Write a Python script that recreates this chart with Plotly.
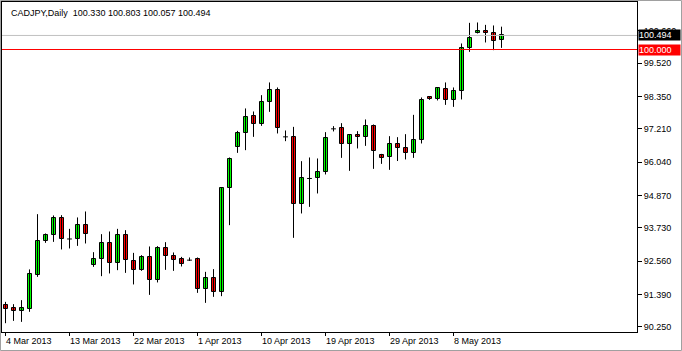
import plotly.graph_objects as go

# ---------------- data ----------------
symbol_title = "CADJPY,Daily"
header_vals = ["100.330", "100.803", "100.057", "100.494"]

opens = [91.003, 90.898, 90.792, 90.884, 92.079, 93.253, 93.464, 94.061, 93.340, 93.323,
         93.826, 92.409, 92.641, 93.182, 92.480, 93.464, 92.571, 92.255, 92.690, 91.882,
         93.007, 92.726, 92.620, 92.596, 92.620, 91.566, 91.952, 91.482, 95.116, 96.578,
         97.049, 97.647, 97.365, 98.139, 98.560, 96.930, 96.930, 94.553, 95.467, 95.467,
         95.678, 97.211, 97.225, 96.662, 96.979, 96.909, 97.295, 96.276, 96.205, 96.662,
         96.522, 96.346, 96.803, 98.314, 98.244, 98.596, 98.209, 98.536, 100.037, 100.564,
         100.634, 100.564, 100.330]
highs = [91.130, 91.049, 91.190, 92.270, 94.212, 93.534, 94.167, 94.177, 93.696, 94.097,
         94.307, 92.877, 93.510, 93.604, 93.696, 93.650, 92.852, 92.771, 93.077, 93.088,
         93.228, 92.866, 92.711, 92.690, 92.690, 92.185, 92.280, 95.160, 96.205, 97.140,
         97.928, 97.822, 98.395, 98.842, 98.666, 97.154, 97.281, 96.075, 96.205, 96.170,
         97.095, 97.306, 97.411, 97.024, 97.130, 97.541, 97.365, 96.332, 96.954, 96.919,
         97.024, 97.703, 98.314, 98.350, 98.666, 98.842, 98.666, 100.212, 100.937, 100.950,
         100.866, 100.845, 100.803]
lows = [90.380, 90.462, 90.427, 90.780, 92.009, 93.204, 93.239, 92.972, 93.007, 93.098,
        93.182, 92.360, 92.033, 92.128, 92.244, 92.149, 91.742, 92.220, 91.376, 91.812,
        92.255, 92.220, 92.374, 92.570, 91.446, 91.095, 91.306, 91.330, 93.826, 96.367,
        96.462, 96.930, 97.316, 97.808, 97.049, 96.778, 93.380, 94.237, 94.469, 94.940,
        95.608, 97.120, 96.191, 95.735, 96.522, 96.613, 95.805, 95.980, 95.770, 96.080,
        96.136, 96.191, 96.697, 98.230, 98.209, 98.054, 97.984, 98.244, 99.917, 100.564,
        100.247, 99.977, 100.057]
closes = [90.884, 90.792, 90.898, 92.104, 93.253, 93.485, 94.061, 93.323, 93.340, 93.815,
          93.510, 92.641, 93.182, 92.480, 93.464, 92.585, 92.234, 92.690, 91.882, 93.007,
          92.726, 92.606, 92.455, 92.596, 91.566, 91.952, 91.460, 95.116, 96.135, 97.049,
          97.611, 97.365, 98.139, 98.560, 97.225, 96.930, 94.553, 95.467, 95.467, 95.678,
          96.873, 97.211, 96.662, 96.979, 96.909, 97.295, 96.417, 96.191, 96.662, 96.522,
          96.346, 96.803, 98.209, 98.244, 98.631, 98.209, 98.525, 100.037, 100.388, 100.634,
          100.564, 100.283, 100.494]

tick_idx = [0, 8, 16, 24, 32, 40, 48, 56]
tick_labels = ["4 Mar 2013", "13 Mar 2013", "22 Mar 2013", "1 Apr 2013",
               "10 Apr 2013", "19 Apr 2013", "29 Apr 2013", "8 May 2013"]

y_ticks = [90.250, 91.390, 92.560, 93.730, 94.870, 96.040, 97.210, 98.350, 99.520, 100.660]

bid_price = 100.494
level_price = 100.000

# ---------------- figure ----------------
FONT = "Liberation Sans"
n = len(opens)
idx = list(range(n))

wx, wy = [], []
for i in idx:
    wx += [i, i, None]
    wy += [lows[i], highs[i], None]

up_x, up_base, up_h = [], [], []
dn_x, dn_base, dn_h = [], [], []
dj_x, dj_y = [], []
for i in idx:
    o, c = opens[i], closes[i]
    if abs(c - o) < 1e-9:
        dj_x += [i - 0.3, i + 0.3, None]
        dj_y += [o, o, None]
    elif c > o:
        up_x.append(i); up_base.append(o); up_h.append(c - o)
    else:
        dn_x.append(i); dn_base.append(c); dn_h.append(o - c)

fig = go.Figure()
fig.add_trace(go.Scatter(x=wx, y=wy, mode="lines",
                         line=dict(color="black", width=1), hoverinfo="skip"))
fig.add_trace(go.Bar(x=up_x, y=up_h, base=up_base, width=0.5,
                     marker=dict(color="#00FF00", line=dict(color="black", width=1))))
fig.add_trace(go.Bar(x=dn_x, y=dn_h, base=dn_base, width=0.5,
                     marker=dict(color="#FF0000", line=dict(color="black", width=1))))
fig.add_trace(go.Scatter(x=dj_x, y=dj_y, mode="lines",
                         line=dict(color="black", width=1), hoverinfo="skip"))

L, R, T, B = 2, 45, 2, 19
W, H = 682, 351
pw, ph = W - L - R, H - T - B
x0 = -3.5 / 8
x1 = x0 + pw / 8.0
k = 0.035149
y_top = 101.7344 + 0.0056
y_range = [y_top - k * 332, y_top - k * 2]

shapes = [
    dict(type="line", xref="paper", yref="y", x0=0, x1=1, y0=bid_price, y1=bid_price,
         line=dict(color="#C0C0C0", width=1), layer="above"),
    dict(type="line", xref="paper", yref="y", x0=0, x1=1, y0=level_price, y1=level_price,
         line=dict(color="#FF0000", width=1), layer="above"),
    # window frame
    dict(type="rect", xref="paper", yref="paper",
         x0=(0.5 - L) / pw, x1=(W - 0.5 - L) / pw,
         y0=(H - B - (H - 0.5)) / ph, y1=(H - B - 0.5) / ph,
         line=dict(color="#A0A0A0", width=1), fillcolor="rgba(0,0,0,0)", layer="above"),
]

annotations = []
annotations.append(dict(xref="paper", yref="paper", x=0, y=1, xanchor="left", yanchor="middle",
                        xshift=7, yshift=-10.5, showarrow=False,
                        text=symbol_title + "\u00a0\u00a0" + "\u00a0".join(header_vals),
                        font=dict(family=FONT, size=9, color="black")))
for ti, tl in zip(tick_idx, tick_labels):
    annotations.append(dict(xref="x", yref="paper", x=ti, y=0, xanchor="left", yanchor="middle",
                            xshift=-1.5, yshift=-9, showarrow=False, text=tl,
                            font=dict(family=FONT, size=9, color="black")))
annotations.append(dict(xref="paper", yref="y", x=1, y=bid_price, xanchor="left", yanchor="middle",
                        xshift=1, showarrow=False, text="%.3f" % bid_price, bgcolor="black",
                        width=41, height=10, borderpad=0, align="left",
                        font=dict(family=FONT, size=9, color="white")))
annotations.append(dict(xref="paper", yref="y", x=1, y=level_price, xanchor="left", yanchor="middle",
                        xshift=1, showarrow=False, text="%.3f" % level_price, bgcolor="#FF0000",
                        width=41, height=10, borderpad=0, align="left",
                        font=dict(family=FONT, size=9, color="white")))

fig.update_layout(
    width=W, height=H,
    margin=dict(l=L, r=R, t=T, b=B),
    paper_bgcolor="white", plot_bgcolor="white",
    showlegend=False, barmode="overlay", bargap=0,
    shapes=shapes, annotations=annotations,
    xaxis=dict(range=[x0, x1], showgrid=False, zeroline=False,
               tickmode="array", tickvals=tick_idx, showticklabels=False,
               ticks="outside", ticklen=3, tickcolor="black",
               showline=True, linecolor="black", linewidth=1, mirror=True, fixedrange=True),
    yaxis=dict(range=y_range,
               side="right", showgrid=False, zeroline=False,
               tickmode="array", tickvals=y_ticks, ticktext=["%.3f" % v for v in y_ticks],
               ticks="outside", ticklen=4, tickcolor="black",
               tickfont=dict(family=FONT, size=9, color="black"),
               showline=True, linecolor="black", linewidth=1, mirror=True, fixedrange=True),
)

fig.write_html("out.html")
